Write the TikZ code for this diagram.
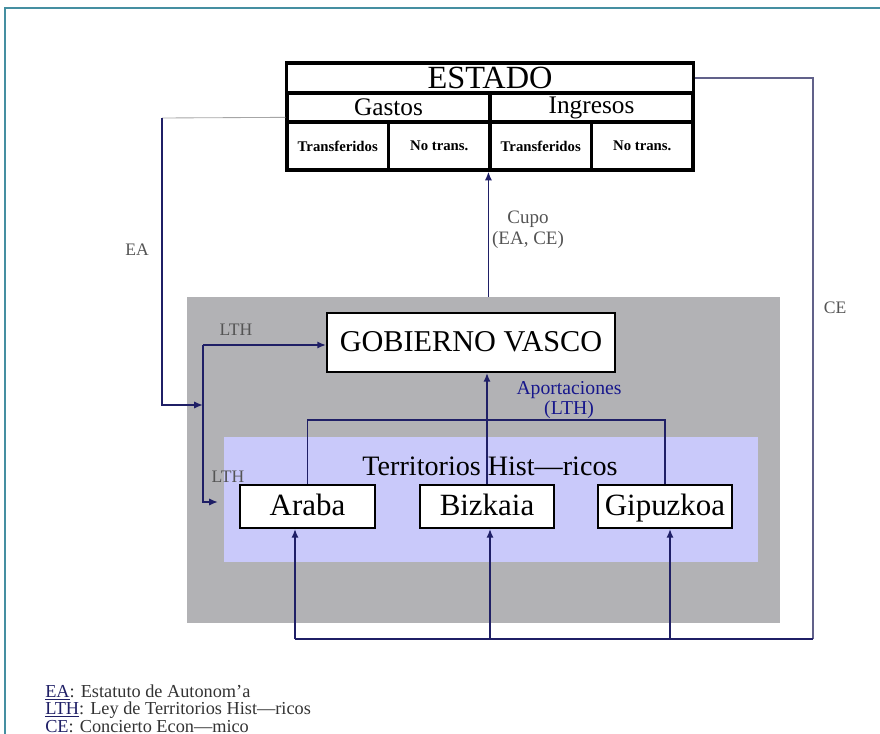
\documentclass[tikz,border=0pt]{standalone}
\usepackage{fontspec}
\setmainfont{Liberation Serif}
\usetikzlibrary{arrows.meta,positioning}
\definecolor{navy}{rgb}{0.12,0.12,0.40}
\definecolor{frameteal}{rgb}{0.27,0.56,0.63}
\definecolor{cegray}{rgb}{0.38,0.38,0.54}
\definecolor{regiongray}{rgb}{0.70,0.70,0.71}
\definecolor{thblue}{rgb}{0.79,0.79,0.98}
\definecolor{labgray}{rgb}{0.33,0.33,0.33}

\begin{document}
\begin{tikzpicture}[
  x=0.025cm, y=-0.025cm,
  cell/.style={draw, line width=2.2pt, inner sep=0pt, fill=white},
  region/.style={fill=regiongray, inner sep=0pt},
  terr/.style={fill=thblue, inner sep=0pt},
  tbox/.style={draw, line width=1.3pt, fill=white, inner sep=0pt, text height=14pt, text depth=1pt, font=\fontsize{22}{26}\selectfont},
  arr/.style={-{Latex[length=2.2mm,width=1.8mm]}, line width=1.2pt, navy},
  ln/.style={line width=1.2pt, navy},
  celine/.style={line width=1.2pt, cegray},
  lab/.style={text=labgray, inner sep=1pt, font=\fontsize{12.5}{13.5}\selectfont},
]
\useasboundingbox (0,0) rectangle (880,734);
\draw[frameteal, line width=1.3pt] (5,734) -- (5,8) -- (880,8);
% ================= Estado =================
\node[cell, minimum width=10.15cm, minimum height=0.75cm, font=\fontsize{23}{23}\selectfont] (estado) at (490,78) {ESTADO};
\node[cell, minimum width=5.075cm, minimum height=0.725cm, font=\fontsize{18}{18}\selectfont] (gastos) at (388.5,107.5) {Gastos};
\node[cell, minimum width=5.075cm, minimum height=0.725cm, font=\fontsize{18}{18}\selectfont] (ingresos) at (591.5,107.5) {Ingresos};
\node[cell, minimum width=2.5375cm, minimum height=1.2cm, font=\fontsize{10.5}{10.5}\selectfont\bfseries] (trG) at (337.75,146) {Transferidos};
\node[cell, minimum width=2.5375cm, minimum height=1.2cm, font=\fontsize{10.5}{10.5}\selectfont\bfseries] (noG) at (439.25,146) {No trans.};
\node[cell, minimum width=2.5375cm, minimum height=1.2cm, font=\fontsize{10.5}{10.5}\selectfont\bfseries] (trI) at (540.75,146) {Transferidos};
\node[cell, minimum width=2.5375cm, minimum height=1.2cm, font=\fontsize{10.5}{10.5}\selectfont\bfseries] (noI) at (642.25,146) {No trans.};
% ================= Euskadi =================
\node[region, minimum width=14.825cm, minimum height=8.15cm] (pv) at (483.5,460) {};
\node[terr, minimum width=13.35cm, minimum height=3.125cm] (th) at (491,499.5) {};
\node[font=\fontsize{20}{24}\selectfont] (thlab) at (490,466) {Territorios Hist—ricos};
\node[tbox, minimum width=7.2cm, minimum height=1.475cm, font=\fontsize{21.5}{25}\selectfont] (gv) at (471,342.5) {GOBIERNO VASCO};
\node[tbox, minimum width=3.375cm, minimum height=1.075cm] (araba) at (307.5,506.5) {Araba};
\node[tbox, minimum width=3.35cm, minimum height=1.075cm] (bizkaia) at (487,506.5) {Bizkaia};
\node[tbox, minimum width=3.35cm, minimum height=1.075cm] (gipuzkoa) at (665,506.5) {Gipuzkoa};
% ================= connectors =================
\coordinate (eaTop) at (162,118);
\coordinate (eaBot) at (162,405);
\coordinate (lthTop) at (203,345);
\coordinate (lthBot) at (203,502);
\coordinate (ceCorner) at (813,639);
\coordinate (feedA) at (295,639);
\coordinate (feedB) at (490,639);
\coordinate (feedC) at (670,639);
\draw[gray!70, line width=0.6pt] ([yshift=-7pt]gastos.west) -- (eaTop);
\draw[arr] (eaTop) -- (eaBot) -- (eaBot -| lthTop);
\draw[arr] (lthTop) -- (lthTop -| gv.west);
\draw[arr, shorten >=15pt] (lthTop) -- (lthBot) -- (lthBot -| araba.west);
\draw[arr] (pv.north -| ingresos.west) -- (ingresos.west |- noG.south);
\draw[ln] (araba.north) -- ++(0,-64) -| (gipuzkoa.north);
\draw[arr] (bizkaia.north) -- (bizkaia.north |- gv.south);
\draw[celine] (estado.east) -| (ceCorner);
\draw[ln] (ceCorner) -- (feedA);
\draw[arr] (feedA) -- (feedA |- araba.south);
\draw[arr] (feedB) -- (feedB |- bizkaia.south);
\draw[arr] (feedC) -- (feedC |- gipuzkoa.south);
% ================= labels =================
\node[lab] (eaLab) at (137,250) {EA};
\node[lab] (lthLab1) at (236,330) {LTH};
\node[lab] (lthLab2) at (228,477) {LTH};
\node[lab] (ceLab) at (835,308) {CE};
\node[lab, align=center, font=\fontsize{13.5}{15}\selectfont] (cupoLab) at (528,230) {Cupo\\(EA, CE)};
\node[lab, text=navy!75!blue, align=center, font=\fontsize{14}{14.5}\selectfont] (aportLab) at (569,400) {Aportaciones\\(LTH)};
\node[anchor=west, align=left, inner sep=0pt, text=black!80, font=\fontsize{13}{10.5}\selectfont] (legend) at (45,710)
  {\textcolor{navy}{\underline{EA}}: Estatuto de Autonom'a\\
   \textcolor{navy}{\underline{LTH}}: Ley de Territorios Hist—ricos\\
   \textcolor{navy}{\underline{CE}}: Concierto Econ—mico};
\end{tikzpicture}
\end{document}
